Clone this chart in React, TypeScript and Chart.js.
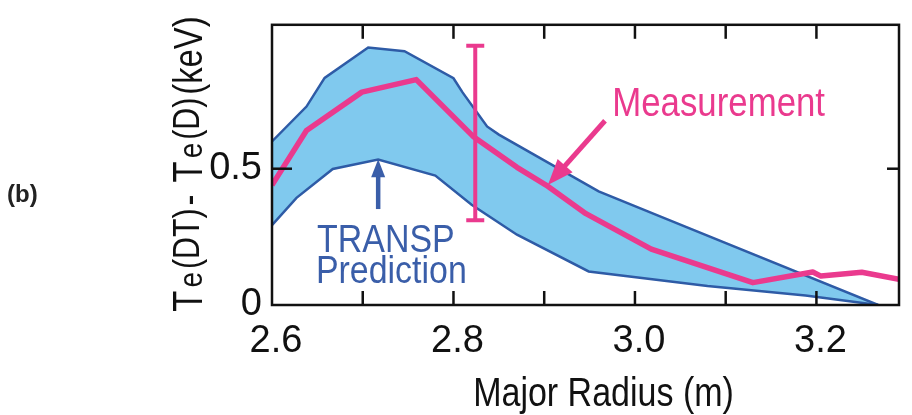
import React, { useEffect, useRef } from 'react';
import { Chart, registerables } from 'chart.js';

Chart.register(...registerables);

const FONT = '"Liberation Sans", Arial, Helvetica, sans-serif';
const NARROW = 0.87; // horizontal compression to mimic Helvetica Narrow

// Axis ticks
const xTickValues = [2.6, 2.7, 2.8, 2.9, 3.0, 3.1, 3.2];
const xTickLabels = ['2.6', '', '2.8', '', '3.0', '', '3.2'];
const yTickValues = [0, 0.5];
const yTickLabels = ['0', '0.5'];

// TRANSP prediction band (upper and lower edges), Major Radius (m) vs keV
const bandUpperR = [2.6, 2.638, 2.658, 2.706, 2.746, 2.8, 2.81, 2.837, 2.85, 2.96, 3.029, 3.268];
const bandUpperT = [0.6, 0.728, 0.833, 0.945, 0.931, 0.832, 0.78, 0.655, 0.625, 0.417, 0.323, 0];
const bandLowerR = [2.6, 2.627, 2.667, 2.717, 2.78, 2.82, 2.87, 2.949, 3.08, 3.188, 3.268];
const bandLowerT = [0.293, 0.393, 0.499, 0.534, 0.475, 0.368, 0.258, 0.123, 0.07, 0.035, 0];

// Measurement
const measR = [2.6, 2.638, 2.699, 2.759, 2.8225, 2.87, 2.902, 2.946, 3.018, 3.13, 3.196, 3.205, 3.25, 3.291];
const measT = [0.44, 0.64, 0.781, 0.827, 0.616, 0.505, 0.44, 0.335, 0.205, 0.082, 0.121, 0.106, 0.12, 0.094];

// Error bar
const errBarR = [2.824, 2.824];
const errBarT = [0.311, 0.951];

const PINK = '#ea3a8e';
const BLUE_LINE = '#2e5ba6';
const BLUE_FILL = '#80c9ee';
const BLUE_TEXT = '#3a5ea9';

const toPts = (xs: number[], ys: number[]) => xs.map((x, i) => ({ x, y: ys[i] }));

function narrowText(ctx: CanvasRenderingContext2D, text: string, x: number, y: number,
  size: number, align: 'left' | 'center' | 'right', color: string, squeeze = NARROW) {
  ctx.save();
  ctx.font = `${size}px ${FONT}`;
  ctx.fillStyle = color;
  ctx.textBaseline = 'alphabetic';
  ctx.textAlign = 'left';
  const w = ctx.measureText(text).width * squeeze;
  const x0 = align === 'left' ? x : align === 'center' ? x - w / 2 : x - w;
  ctx.translate(x0, y);
  ctx.scale(squeeze, 1);
  ctx.fillText(text, 0, 0);
  ctx.restore();
}

function arrow(ctx: CanvasRenderingContext2D, x1: number, y1: number, x2: number, y2: number,
  color: string, w: number, hl: number, hw: number) {
  const ang = Math.atan2(y2 - y1, x2 - x1);
  const bx = x2 - hl * Math.cos(ang);
  const by = y2 - hl * Math.sin(ang);
  ctx.strokeStyle = color;
  ctx.fillStyle = color;
  ctx.lineWidth = w;
  ctx.lineCap = 'butt';
  ctx.beginPath();
  ctx.moveTo(x1, y1);
  ctx.lineTo(bx + Math.cos(ang) * 2, by + Math.sin(ang) * 2);
  ctx.stroke();
  const px = -Math.sin(ang), py = Math.cos(ang);
  ctx.beginPath();
  ctx.moveTo(x2, y2);
  ctx.lineTo(bx + px * hw / 2, by + py * hw / 2);
  ctx.lineTo(bx - px * hw / 2, by - py * hw / 2);
  ctx.closePath();
  ctx.fill();
}

const framePlugin = {
  id: 'frameAndNotes',
  afterDatasetsDraw(chart: any) {
    const { ctx, chartArea: a, scales } = chart;
    const x = scales.x, y = scales.y;
    ctx.save();
    ctx.strokeStyle = '#111';
    ctx.lineWidth = 2.5;
    ctx.strokeRect(a.left, a.top, a.right - a.left, a.bottom - a.top);
    const seg = (x1: number, y1: number, x2: number, y2: number) => {
      ctx.beginPath(); ctx.moveTo(x1, y1); ctx.lineTo(x2, y2); ctx.stroke();
    };
    for (const v of xTickValues) {
      const px = x.getPixelForValue(v);
      if (px <= a.left + 2 || px >= a.right - 2) continue;
      seg(px, a.bottom, px, a.bottom - 14);
      seg(px, a.top, px, a.top + 14);
    }
    for (const v of yTickValues) {
      const py = y.getPixelForValue(v);
      if (py >= a.bottom - 2 || py <= a.top + 2) continue;
      seg(a.left, py, a.left + 20, py);
      seg(a.right, py, a.right - 12, py);
    }

    // Measurement annotation
    arrow(ctx, x.getPixelForValue(2.967), y.getPixelForValue(0.676),
      x.getPixelForValue(2.904), y.getPixelForValue(0.44), PINK, 5, 26, 20);
    narrowText(ctx, 'Measurement', x.getPixelForValue(2.975), y.getPixelForValue(0.694), 40, 'left', PINK);

    // TRANSP annotation
    arrow(ctx, x.getPixelForValue(2.717), y.getPixelForValue(0.352),
      x.getPixelForValue(2.717), y.getPixelForValue(0.535), BLUE_TEXT, 4.5, 18, 14);
    narrowText(ctx, 'TRANSP', x.getPixelForValue(2.7255), y.getPixelForValue(0.194), 39, 'center', BLUE_TEXT);
    narrowText(ctx, 'Prediction', x.getPixelForValue(2.7315), y.getPixelForValue(0.081), 39, 'center', BLUE_TEXT);
    ctx.restore();
  },
  afterDraw(chart: any) {
    const { ctx, chartArea: a } = chart;
    // x axis title
    narrowText(ctx, 'Major Radius (m)', (a.left + a.right) / 2 + 18, 406, 40, 'center', '#111', 0.85);

    // y axis title (rotated), T_e^(DT) - T_e^(D) (keV)
    const sq = 0.82;
    const pieces: { t: string; s: number; dv: number }[] = [
      { t: 'T', s: 42, dv: 0 },
      { t: 'e', s: 34, dv: 0 },
      { t: '(DT)', s: 37, dv: -3 },
      { t: '- ', s: 40, dv: 0 },
      { t: 'T', s: 42, dv: 0 },
      { t: 'e', s: 34, dv: 0 },
      { t: '(D)', s: 37, dv: -3 },
      { t: '(keV)', s: 40, dv: 0 },
    ];
    const gap = 3;
    ctx.save();
    let total = 0;
    const widths = pieces.map((p) => {
      ctx.font = `${p.s}px ${FONT}`;
      const w = ctx.measureText(p.t).width * sq;
      total += w;
      return w;
    });
    total += gap * (pieces.length - 1);
    ctx.fillStyle = '#111';
    ctx.textAlign = 'left';
    ctx.textBaseline = 'alphabetic';
    ctx.translate(202, 164);
    ctx.rotate(-Math.PI / 2);
    let u = -total / 2;
    pieces.forEach((p, i) => {
      ctx.save();
      ctx.font = `${p.s}px ${FONT}`;
      ctx.translate(u, p.dv);
      ctx.scale(sq, 1);
      ctx.fillText(p.t, 0, 0);
      ctx.restore();
      u += widths[i] + gap;
    });
    ctx.restore();

    ctx.save();
    ctx.fillStyle = '#222';
    ctx.font = 'bold 24px "Liberation Sans", Arial, sans-serif';
    ctx.textAlign = 'left';
    ctx.textBaseline = 'middle';
    ctx.fillText('(b)', 7, 195);
    ctx.restore();
  },
};

export default function App() {
  const ref = useRef<HTMLCanvasElement | null>(null);
  useEffect(() => {
    if (!ref.current) return;
    Chart.defaults.font.family = FONT;
    Chart.defaults.color = '#111';
    const chart = new Chart(ref.current, {
      type: 'scatter',
      data: {
        datasets: [
          {
            label: 'Error bar',
            data: toPts(errBarR, errBarT),
            showLine: true,
            borderColor: PINK,
            borderWidth: 4,
            pointStyle: 'line',
            pointRadius: 9,
            pointBorderWidth: 4,
            pointBorderColor: PINK,
            pointBackgroundColor: PINK,
          },
          {
            label: 'Measurement',
            data: toPts(measR, measT),
            showLine: true,
            borderColor: PINK,
            borderWidth: 5.5,
            pointRadius: 0,
            borderJoinStyle: 'round',
          },
          {
            label: 'TRANSP lower',
            data: toPts(bandLowerR, bandLowerT),
            showLine: true,
            borderColor: BLUE_LINE,
            borderWidth: 2.5,
            pointRadius: 0,
          },
          {
            label: 'TRANSP upper',
            data: toPts(bandUpperR, bandUpperT),
            showLine: true,
            borderColor: BLUE_LINE,
            borderWidth: 2.5,
            pointRadius: 0,
            backgroundColor: BLUE_FILL,
            fill: '-1',
          },
        ],
      },
      options: {
        responsive: false,
        animation: false,
        devicePixelRatio: 1,
        layout: { padding: { top: 13, right: 4, left: 0, bottom: 0 } },
        plugins: { legend: { display: false }, tooltip: { enabled: false } },
        events: [],
        scales: {
          x: {
            type: 'linear',
            min: 2.6,
            max: 3.291,
            grid: { display: false },
            border: { display: false },
            afterBuildTicks: (s: any) => { s.ticks = xTickValues.map((v) => ({ value: v })); },
            afterFit: (s: any) => { s.height = 110; },
            ticks: {
              font: { size: 38 },
              color: '#111',
              padding: 6,
              labelOffset: 4,
              maxRotation: 0,
              autoSkip: false,
              callback: (_v: any, i: number) => xTickLabels[i],
            },
          },
          y: {
            type: 'linear',
            min: 0,
            max: 1.028,
            grid: { display: false },
            border: { display: false },
            afterBuildTicks: (s: any) => { s.ticks = yTickValues.map((v) => ({ value: v })); },
            afterFit: (s: any) => { s.width = 272; },
            ticks: {
              font: { size: 38 },
              color: '#111',
              padding: 2,
              callback: (_v: any, i: number) => yTickLabels[i],
            },
          },
        },
      },
      plugins: [framePlugin],
    } as any);
    return () => chart.destroy();
  }, []);
  return (
    <div style={{ position: 'fixed', left: 0, top: 0, width: 912, height: 415, background: '#fff' }}>
      <canvas ref={ref} width={912} height={415} style={{ width: 912, height: 415, display: 'block' }} />
    </div>
  );
}
